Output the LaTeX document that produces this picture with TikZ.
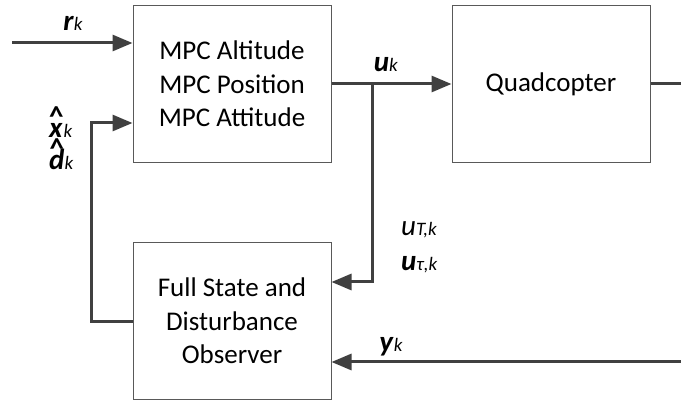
\documentclass[tikz,border=0pt]{standalone}
\usepackage{fontspec}
\setmainfont{Carlito}
\usetikzlibrary{arrows.meta}
\newcommand\bi[1]{\textbf{\textit{#1}}}
\newcommand\sub[1]{{\fontsize{19}{19}\selectfont\textit{#1}}}
\newcommand\hatted[1]{\leavevmode\ooalign{\hfil\raisebox{11pt}{\bfseries\^{}}\hfil\cr#1\cr}}
\begin{document}
\begin{tikzpicture}[x=1pt,y=-1pt,
  blk/.style={draw=black!65,line width=1pt,minimum width=198pt,minimum height=157pt,align=center,inner sep=0pt,font=\fontsize{27}{33.5}\selectfont},
  conn/.style={draw=black!75,line width=3pt,-{Triangle[length=20pt,width=16pt]}},
  line/.style={draw=black!75,line width=3pt},
  lbl/.style={inner sep=0pt,font=\fontsize{29}{30}\selectfont}]
\useasboundingbox (0,0) rectangle (681,403);
\node[blk] (mpc) at (232,84) {MPC Altitude\\MPC Position\\MPC Attitude};
\node[blk] (quad) at (551,84) {Quadcopter};
\node[blk] (obs) at (232,321) {Full State and\\Disturbance\\Observer};
\coordinate (rin) at (12,43);
\coordinate (qout) at (681,84);
\coordinate (yin) at (681,362);
\coordinate (br) at (372,84);
\draw[conn] (rin) -- (rin -| mpc.west);
\draw[conn] (mpc.east |- br) -- (quad.west |- br);
\draw[conn] (br) -- (372,282) -- (obs.east |- 0,282);
\draw[line] (quad.east |- qout) -- (qout);
\draw[conn] (yin) -- (yin -| obs.east);
\draw[conn] (obs.west |- 0,322) -- (91,322) -- (91,123) -- (mpc.west |- 0,123);
\node[lbl,anchor=base] (lr) at (73,31) {\bi{r}\sub{k}};
\node[lbl,anchor=base] (lu) at (386,72) {\bi{u}\sub{k}};
\node[lbl,anchor=base west] (lx) at (49,138) {\hatted{\bi{x}}\sub{k}};
\node[lbl,anchor=base west] (ld) at (49,170) {\hatted{\bi{d}}\sub{k}};
\node[lbl,anchor=base west] (lut) at (401,236) {\textit{u}\sub{T,k}};
\node[lbl,anchor=base west] (lutau) at (401,271) {\bi{u}\sub{τ,k}};
\node[lbl,anchor=base] (ly) at (391,352) {\bi{y}\sub{k}};
\end{tikzpicture}
\end{document}
